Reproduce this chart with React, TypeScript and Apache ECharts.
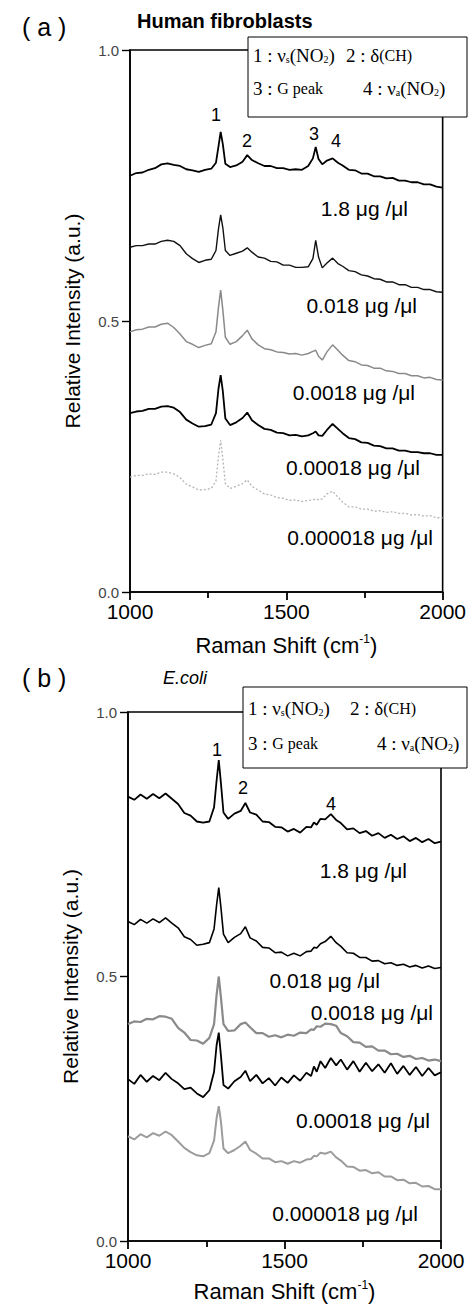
import React, { useEffect, useRef } from "react";
import * as echarts from "echarts";

// Raman shift sample positions (cm-1), shared by all spectra
const ramanShift = [1000, 1020, 1040, 1060, 1080, 1100, 1120, 1140, 1160, 1180, 1200, 1220, 1240, 1260, 1275, 1283, 1290, 1297, 1305, 1320, 1340, 1360, 1375, 1390, 1410, 1430, 1450, 1470, 1490, 1510, 1530, 1550, 1570, 1585, 1594, 1603, 1615, 1630, 1648, 1665, 1680, 1700, 1720, 1740, 1760, 1780, 1800, 1820, 1840, 1860, 1880, 1900, 1920, 1940, 1960, 1980, 2000];

// (a) Human fibroblasts
const fibro_1_8 = [0.768, 0.773, 0.774, 0.779, 0.782, 0.789, 0.791, 0.788, 0.786, 0.780, 0.778, 0.775, 0.779, 0.781, 0.792, 0.822, 0.849, 0.826, 0.790, 0.784, 0.787, 0.794, 0.806, 0.797, 0.791, 0.786, 0.786, 0.782, 0.782, 0.779, 0.780, 0.779, 0.786, 0.800, 0.821, 0.799, 0.789, 0.796, 0.800, 0.792, 0.787, 0.779, 0.778, 0.772, 0.772, 0.767, 0.767, 0.763, 0.764, 0.759, 0.759, 0.756, 0.756, 0.752, 0.752, 0.748, 0.746];
const fibro_0_018 = [0.636, 0.639, 0.639, 0.642, 0.642, 0.647, 0.649, 0.647, 0.639, 0.624, 0.615, 0.608, 0.612, 0.614, 0.630, 0.670, 0.696, 0.672, 0.630, 0.621, 0.625, 0.629, 0.635, 0.627, 0.618, 0.616, 0.610, 0.609, 0.603, 0.603, 0.599, 0.599, 0.600, 0.615, 0.649, 0.618, 0.598, 0.607, 0.616, 0.606, 0.601, 0.593, 0.591, 0.585, 0.583, 0.578, 0.577, 0.572, 0.572, 0.567, 0.567, 0.562, 0.562, 0.558, 0.558, 0.554, 0.553];
const fibro_0_0018 = [0.480, 0.484, 0.485, 0.489, 0.489, 0.494, 0.496, 0.488, 0.476, 0.462, 0.457, 0.451, 0.455, 0.458, 0.480, 0.525, 0.557, 0.520, 0.470, 0.457, 0.462, 0.473, 0.483, 0.467, 0.456, 0.449, 0.447, 0.443, 0.442, 0.439, 0.440, 0.437, 0.440, 0.444, 0.446, 0.435, 0.428, 0.443, 0.456, 0.446, 0.437, 0.427, 0.425, 0.419, 0.418, 0.413, 0.413, 0.408, 0.407, 0.403, 0.403, 0.399, 0.399, 0.395, 0.396, 0.392, 0.391];
const fibro_0_00018 = [0.330, 0.333, 0.334, 0.338, 0.338, 0.342, 0.343, 0.340, 0.332, 0.318, 0.311, 0.305, 0.306, 0.309, 0.330, 0.375, 0.400, 0.370, 0.320, 0.308, 0.313, 0.321, 0.331, 0.317, 0.308, 0.301, 0.299, 0.294, 0.293, 0.289, 0.290, 0.287, 0.289, 0.293, 0.296, 0.289, 0.288, 0.299, 0.310, 0.301, 0.293, 0.284, 0.282, 0.276, 0.275, 0.270, 0.269, 0.265, 0.265, 0.261, 0.261, 0.258, 0.258, 0.256, 0.256, 0.253, 0.253];
const fibro_0_000018 = [0.212, 0.215, 0.215, 0.218, 0.217, 0.221, 0.221, 0.218, 0.211, 0.199, 0.194, 0.188, 0.189, 0.191, 0.205, 0.250, 0.280, 0.245, 0.200, 0.191, 0.195, 0.200, 0.207, 0.195, 0.188, 0.181, 0.179, 0.174, 0.173, 0.169, 0.170, 0.167, 0.169, 0.170, 0.172, 0.170, 0.172, 0.181, 0.186, 0.175, 0.166, 0.157, 0.157, 0.153, 0.153, 0.149, 0.150, 0.147, 0.148, 0.145, 0.145, 0.142, 0.143, 0.140, 0.141, 0.137, 0.137];

// (b) E.coli
const ecoli_1_8 = [0.840, 0.834, 0.844, 0.836, 0.845, 0.837, 0.846, 0.836, 0.826, 0.809, 0.804, 0.793, 0.791, 0.793, 0.820, 0.870, 0.909, 0.865, 0.810, 0.798, 0.808, 0.813, 0.828, 0.810, 0.806, 0.793, 0.792, 0.783, 0.782, 0.774, 0.779, 0.772, 0.783, 0.782, 0.791, 0.787, 0.798, 0.797, 0.807, 0.796, 0.790, 0.778, 0.780, 0.771, 0.775, 0.766, 0.771, 0.762, 0.768, 0.760, 0.765, 0.756, 0.762, 0.754, 0.760, 0.752, 0.755];
const ecoli_0_018 = [0.604, 0.598, 0.608, 0.601, 0.609, 0.602, 0.611, 0.601, 0.592, 0.575, 0.570, 0.559, 0.561, 0.564, 0.590, 0.635, 0.668, 0.630, 0.580, 0.564, 0.574, 0.581, 0.594, 0.573, 0.567, 0.555, 0.554, 0.545, 0.546, 0.539, 0.544, 0.539, 0.547, 0.548, 0.555, 0.554, 0.562, 0.566, 0.576, 0.564, 0.557, 0.545, 0.544, 0.536, 0.536, 0.529, 0.530, 0.524, 0.526, 0.521, 0.523, 0.518, 0.521, 0.516, 0.520, 0.515, 0.517];
const ecoli_0_0018 = [0.410, 0.415, 0.414, 0.420, 0.419, 0.425, 0.424, 0.420, 0.403, 0.394, 0.380, 0.379, 0.373, 0.384, 0.410, 0.465, 0.500, 0.460, 0.410, 0.397, 0.398, 0.410, 0.413, 0.404, 0.393, 0.393, 0.386, 0.389, 0.385, 0.390, 0.388, 0.394, 0.393, 0.400, 0.399, 0.406, 0.405, 0.411, 0.410, 0.407, 0.393, 0.387, 0.376, 0.375, 0.367, 0.368, 0.360, 0.360, 0.353, 0.354, 0.348, 0.350, 0.344, 0.346, 0.341, 0.343, 0.340];
const ecoli_0_00018 = [0.306, 0.297, 0.314, 0.301, 0.312, 0.304, 0.318, 0.306, 0.298, 0.287, 0.290, 0.279, 0.272, 0.285, 0.320, 0.370, 0.394, 0.350, 0.295, 0.288, 0.302, 0.310, 0.322, 0.302, 0.314, 0.298, 0.308, 0.294, 0.309, 0.299, 0.313, 0.303, 0.318, 0.312, 0.330, 0.320, 0.340, 0.327, 0.346, 0.332, 0.343, 0.324, 0.340, 0.320, 0.337, 0.321, 0.334, 0.318, 0.336, 0.316, 0.331, 0.314, 0.329, 0.312, 0.327, 0.313, 0.319];
const ecoli_0_000018 = [0.198, 0.192, 0.202, 0.196, 0.204, 0.199, 0.207, 0.200, 0.188, 0.176, 0.168, 0.162, 0.160, 0.166, 0.190, 0.232, 0.255, 0.225, 0.175, 0.166, 0.172, 0.180, 0.188, 0.172, 0.165, 0.156, 0.156, 0.149, 0.151, 0.146, 0.151, 0.148, 0.154, 0.155, 0.161, 0.160, 0.167, 0.165, 0.169, 0.158, 0.152, 0.141, 0.140, 0.133, 0.134, 0.128, 0.130, 0.122, 0.122, 0.115, 0.116, 0.109, 0.110, 0.103, 0.104, 0.098, 0.098];

const xTicks = [1000, 1500, 2000];
const yTicks = [0.0, 0.5, 1.0];
const concLabels = ["1.8 μg /μl", "0.018 μg /μl", "0.0018 μg /μl", "0.00018 μg /μl", "0.000018 μg /μl"];
const peakNumbers = ["1", "2", "3", "4"];

const SANS = "Liberation Sans, Arial, sans-serif";
const SERIF = "Liberation Serif, Times New Roman, serif";

function pair(vals: number[]) {
  return ramanShift.map((x, i) => [x, vals[i]]);
}

function txt(x: number, y: number, text: string, size: number, extra: any = {}) {
  const align = extra.align || "left";
  return {
    type: "text",
    x,
    y,
    z: 100,
    style: {
      text,
      fill: "#000",
      fontSize: size,
      fontFamily: extra.family || SANS,
      fontWeight: extra.weight || "normal",
      fontStyle: extra.style || "normal",
      align,
      textAlign: align,
      verticalAlign: "middle",
      textVerticalAlign: "middle",
      rich: extra.rich,
    },
  };
}

const legendRich = {
  sub: { fontSize: 10, lineHeight: 10, verticalAlign: "bottom", fontFamily: SERIF, fill: "#000" },
  sm: { fontSize: 16, lineHeight: 22, fontFamily: SERIF, fill: "#000" },
};

function xAxisFor(gridIndex: number, nameGap: number) {
  return {
    gridIndex,
    type: "value",
    min: 1000,
    max: 2000,
    interval: 500,
    axisLine: { show: true, lineStyle: { color: "#000", width: 1.6 } },
    axisTick: { show: true, inside: false, length: 8, lineStyle: { color: "#000", width: 1.8 } },
    minorTick: { show: true, splitNumber: 2, length: 6, lineStyle: { color: "#000", width: 1.8 } },
    splitLine: { show: false },
    axisLabel: {
      color: "#000",
      fontSize: 21,
      fontFamily: SANS,
      margin: 9,
      formatter: (v: number) => (xTicks.includes(v) ? String(v) : ""),
    },
    name: "Raman Shift (cm{sup|-1})",
    nameLocation: "middle",
    nameGap,
    nameTextStyle: {
      color: "#000",
      fontSize: 22,
      fontFamily: SANS,
      lineHeight: 24,
      rich: { sup: { fontSize: 12, lineHeight: 12, verticalAlign: "top", fontFamily: SANS, color: "#000" } },
    },
  };
}

function yAxisFor(gridIndex: number) {
  return {
    gridIndex,
    type: "value",
    min: 0,
    max: 1,
    interval: 0.5,
    axisLine: { show: true, lineStyle: { color: "#000", width: 1.6 } },
    axisTick: { show: true, inside: false, length: 8, lineStyle: { color: "#000", width: 1.4 } },
    splitLine: { show: false },
    axisLabel: {
      color: "#444",
      fontSize: 15,
      fontFamily: SANS,
      margin: 11,
      formatter: (v: number) => (yTicks.includes(v) ? v.toFixed(1) : ""),
    },
    name: "Relative Intensity (a.u.)",
    nameLocation: "middle",
    nameGap: 47,
    nameTextStyle: { color: "#000", fontSize: 21, fontFamily: SANS },
  };
}

function line(name: string, vals: number[], idx: number, color: string, width: number, type: any = "solid") {
  return {
    name,
    type: "line",
    xAxisIndex: idx,
    yAxisIndex: idx,
    data: pair(vals),
    showSymbol: false,
    symbol: "none",
    smooth: false,
    lineStyle: { color, width, type },
    z: 3,
  };
}

export default function App() {
  const ref = useRef<HTMLDivElement>(null);
  useEffect(() => {
    document.body.style.margin = "0";
    const chart = echarts.init(ref.current!, null, { renderer: "svg" });
    const option: any = {
      animation: false,
      backgroundColor: "#fff",
      grid: [
        { left: 130, top: 50, width: 313, height: 542, show: true, borderColor: "#000", borderWidth: 1.6, backgroundColor: "transparent" },
        { left: 128, top: 712, width: 313, height: 530, show: true, borderColor: "#000", borderWidth: 1.6, backgroundColor: "transparent" },
      ],
      xAxis: [xAxisFor(0, 41), xAxisFor(1, 38)],
      yAxis: [yAxisFor(0), yAxisFor(1)],
      series: [
        line("a 1.8", fibro_1_8, 0, "#000", 1.8),
        line("a 0.018", fibro_0_018, 0, "#111", 1.4),
        line("a 0.0018", fibro_0_0018, 0, "#8a8a8a", 1.5),
        line("a 0.00018", fibro_0_00018, 0, "#000", 1.8),
        line("a 0.000018", fibro_0_000018, 0, "#b5b5b5", 1.3, [2, 2]),
        line("b 1.8", ecoli_1_8, 1, "#000", 1.8),
        line("b 0.018", ecoli_0_018, 1, "#000", 1.6),
        line("b 0.0018", ecoli_0_0018, 1, "#8a8a8a", 2.2),
        line("b 0.00018", ecoli_0_00018, 1, "#000", 1.8),
        line("b 0.000018", ecoli_0_000018, 1, "#9c9c9c", 2),
      ],
      graphic: [
        // panel (a)
        txt(22, 27, "( a )", 25),
        txt(137, 21, "Human fibroblasts", 20, { weight: "bold" }),
        { type: "rect", z: 90, shape: { x: 248, y: 37, width: 219, height: 80 }, style: { fill: "#fff", stroke: "#000", lineWidth: 1 } },
        txt(253, 55, "1 : ν{sub|s}(NO{sub|2})", 19, { family: SERIF, rich: legendRich }),
        txt(346, 55, "2 : δ{sm|(CH)}", 19, { family: SERIF, rich: legendRich }),
        txt(253, 88, "3 : {sm|G peak}", 19, { family: SERIF, rich: legendRich }),
        txt(363, 88, "4 : ν{sub|a}(NO{sub|2})", 19, { family: SERIF, rich: legendRich }),
        txt(216, 115, peakNumbers[0], 18, { align: "center" }),
        txt(247, 141, peakNumbers[1], 18, { align: "center" }),
        txt(314, 134, peakNumbers[2], 18, { align: "center" }),
        txt(336, 141, peakNumbers[3], 18, { align: "center" }),
        txt(408, 208, concLabels[0], 21, { align: "right" }),
        txt(417, 305, concLabels[1], 21, { align: "right" }),
        txt(415, 392, concLabels[2], 21, { align: "right" }),
        txt(420, 467, concLabels[3], 21, { align: "right" }),
        txt(433, 537, concLabels[4], 21, { align: "right" }),
        // panel (b)
        txt(22, 678, "( b )", 25),
        txt(163, 678, "E.coli", 18, { style: "italic" }),
        { type: "rect", z: 90, shape: { x: 243, y: 687, width: 224, height: 81 }, style: { fill: "#fff", stroke: "#000", lineWidth: 1 } },
        txt(248, 708, "1 : ν{sub|s}(NO{sub|2})", 19, { family: SERIF, rich: legendRich }),
        txt(350, 708, "2 : δ{sm|(CH)}", 19, { family: SERIF, rich: legendRich }),
        txt(248, 743, "3 : {sm|G peak}", 19, { family: SERIF, rich: legendRich }),
        txt(377, 743, "4 : ν{sub|a}(NO{sub|2})", 19, { family: SERIF, rich: legendRich }),
        txt(217, 750, peakNumbers[0], 18, { align: "center" }),
        txt(243, 788, peakNumbers[1], 18, { align: "center" }),
        txt(331, 804, peakNumbers[3], 18, { align: "center" }),
        txt(407, 870, concLabels[0], 21, { align: "right" }),
        txt(380, 980, concLabels[1], 21, { align: "right" }),
        txt(433, 1012, concLabels[2], 21, { align: "right" }),
        txt(430, 1120, concLabels[3], 21, { align: "right" }),
        txt(418, 1213, concLabels[4], 21, { align: "right" }),
      ],
    };
    chart.setOption(option);
    return () => chart.dispose();
  }, []);
  return <div ref={ref} style={{ width: 469, height: 1304 }} />;
}
